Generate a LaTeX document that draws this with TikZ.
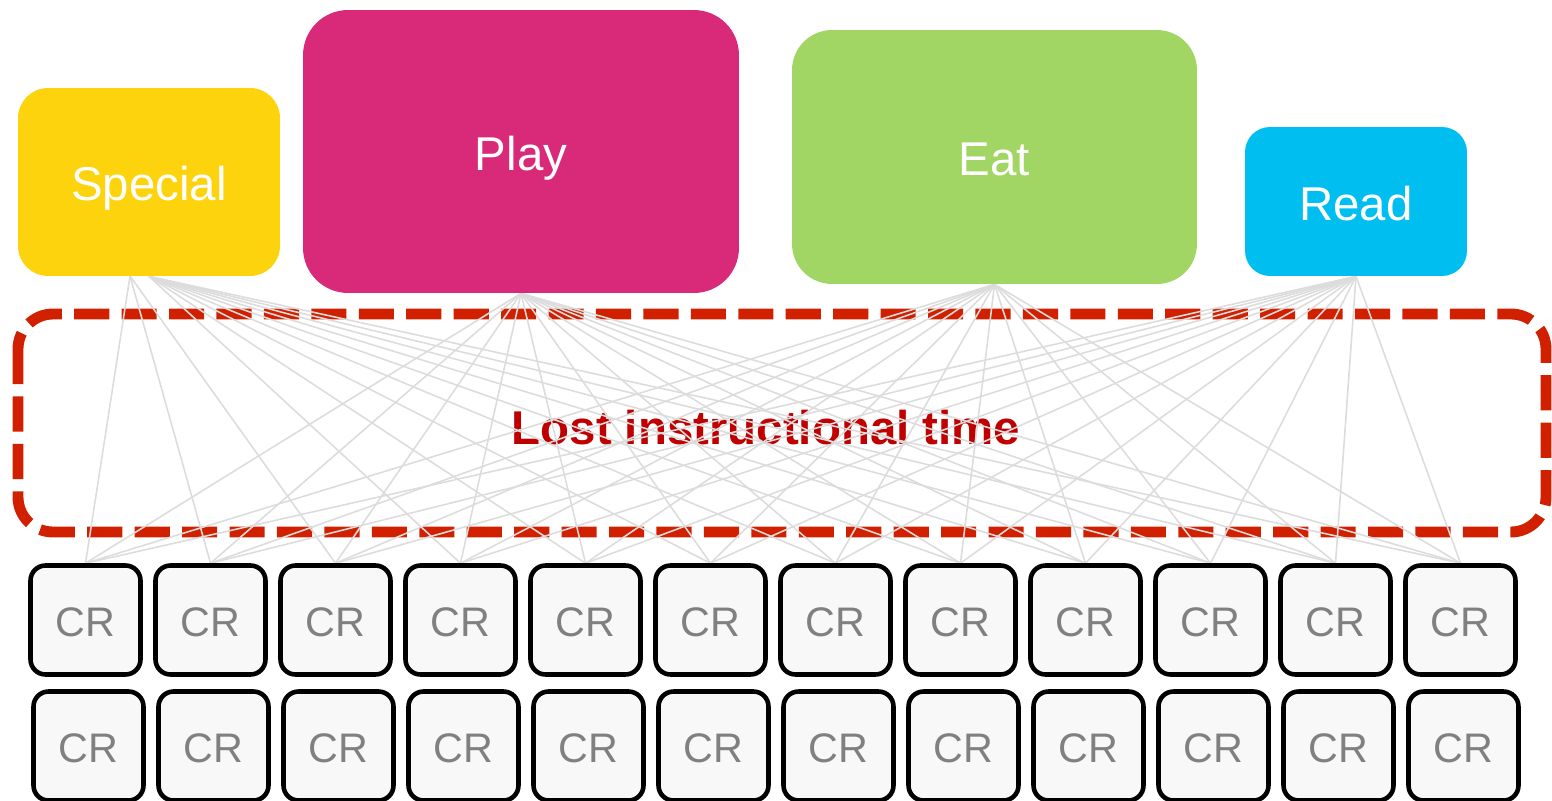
\documentclass[tikz,border=0pt]{standalone}
\usepackage{fontspec}
\setmainfont{Liberation Sans}
\definecolor{specialfill}{HTML}{FCD30C}
\definecolor{playfill}{HTML}{D92A7A}
\definecolor{eatfill}{HTML}{A2D664}
\definecolor{readfill}{HTML}{00BFF0}
\definecolor{dashred}{HTML}{D02000}
\definecolor{titlered}{HTML}{C00000}
\definecolor{linkgray}{HTML}{DCDCDC}
\definecolor{crfill}{HTML}{F8F8F8}
\definecolor{crtext}{HTML}{808080}
\pgfdeclarelayer{bg}
\pgfsetlayers{bg,main}
\begin{document}
\begin{tikzpicture}[x=0.02cm,y=-0.02cm,
  topbox/.style={rounded corners=#1, text=white, inner sep=0pt,
    font=\fontsize{27pt}{32pt}\selectfont, text height=21.6pt, text depth=0pt},
  crbox/.style={draw=black, line width=2.6pt, fill=crfill, rounded corners=0.3cm,
    minimum width=2.2cm, minimum height=2.18cm, inner sep=0pt, text=crtext,
    font=\fontsize{23.5pt}{28pt}\selectfont, text height=19pt, text depth=0pt},
  lostbox/.style={draw=dashred, line width=6.2pt, rounded corners=0.7cm,
    dash pattern=on 20pt off 7pt},
  link/.style={draw=linkgray, line width=0.9pt}]
\useasboundingbox (0,0) rectangle (1552,801);

% activity boxes along the top
\node[topbox=0.6cm, fill=specialfill, minimum width=5.24cm, minimum height=3.76cm]
  (special) at (149,182) {Special};
\node[topbox=0.9cm, fill=playfill, minimum width=8.72cm, minimum height=5.66cm]
  (play) at (521,151.5) {Play};
\node[topbox=0.8cm, fill=eatfill, minimum width=8.1cm, minimum height=5.08cm]
  (eat) at (994.5,157) {Eat};
\node[topbox=0.5cm, fill=readfill, minimum width=4.44cm, minimum height=2.98cm]
  (read) at (1356,201.5) {Read};
\coordinate (spleft) at (130,276);

% two rows of classrooms
\foreach \i in {1,...,12} {
  \node[crbox] (cr\i) at ({85.5+125*(\i-1)},620) {CR};
  \node[crbox] (crb\i) at ({88.5+125*(\i-1)},746) {CR};
}

\begin{pgfonlayer}{bg}
  \draw[lostbox] (18,314) rectangle (1546,532);
  \node[text=titlered, font=\bfseries\fontsize{27pt}{32pt}\selectfont,
    text height=19.3pt, text depth=0pt, inner sep=0pt] (lost) at (766,428)
    {Lost instructional time};
  % every activity is reached from every classroom
  \foreach \i in {1,2,3} { \draw[link] (spleft) -- (cr\i.north); }
  \foreach \i in {4,...,12} { \draw[link] (special.south) -- (cr\i.north); }
  \foreach \i in {1,...,12} {
    \draw[link] (play.south) -- (cr\i.north);
    \draw[link] (eat.south) -- (cr\i.north);
    \draw[link] (read.south) -- (cr\i.north);
  }
\end{pgfonlayer}
\end{tikzpicture}
\end{document}
